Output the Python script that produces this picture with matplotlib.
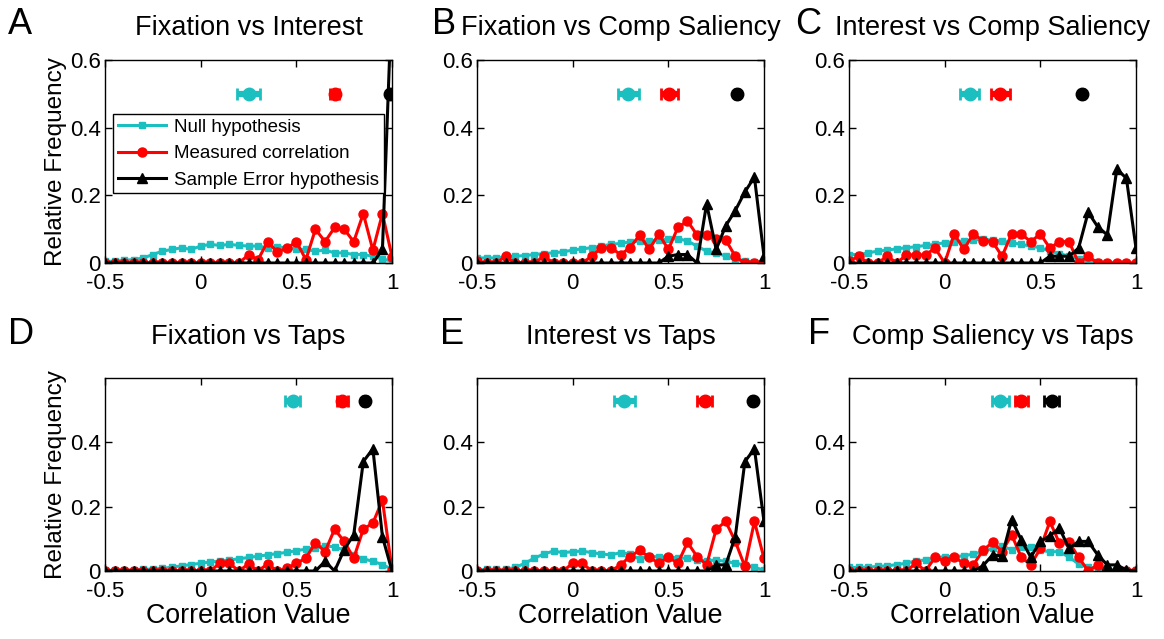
import numpy as np
import matplotlib
matplotlib.use("Agg")
import matplotlib.pyplot as plt

# bin centres of the correlation histograms
bins = np.round(np.arange(-0.5, 1.0001, 0.05), 2)

titles = ["Fixation vs Interest", "Fixation vs Comp Saliency",
          "Interest vs Comp Saliency", "Fixation vs Taps",
          "Interest vs Taps", "Comp Saliency vs Taps"]
letters = ["A", "B", "C", "D", "E", "F"]
legend_labels = ["Null hypothesis", "Measured correlation",
                 "Sample Error hypothesis"]

# --- A: Fixation vs Interest
null_a = [0.005, 0.005, 0.008, 0.010, 0.015, 0.025, 0.035, 0.040, 0.045, 0.040,
          0.050, 0.055, 0.052, 0.055, 0.052, 0.050, 0.050, 0.045, 0.048, 0.045,
          0.040, 0.040, 0.035, 0.038, 0.030, 0.030, 0.025, 0.025, 0.020, 0.012,
          0.005]
meas_a = [0, 0, 0, 0, 0, 0, 0, 0, 0, 0,
          0, 0, 0, 0, 0, 0.024, 0.010, 0.063, 0.033, 0.043,
          0.063, 0.010, 0.100, 0.063, 0.105, 0.100, 0.063, 0.146, 0.038, 0.146,
          0.019]
samp_a = [0, 0, 0, 0, 0, 0, 0, 0, 0, 0,
          0, 0, 0, 0, 0, 0, 0, 0, 0, 0,
          0, 0, 0, 0, 0, 0, 0, 0, 0, 0.040,
          0.800]

# --- B: Fixation vs Comp Saliency
null_b = [0.015, 0.015, 0.015, 0.018, 0.020, 0.022, 0.025, 0.028, 0.030, 0.033,
          0.038, 0.042, 0.045, 0.050, 0.055, 0.058, 0.062, 0.065, 0.065, 0.068,
          0.070, 0.072, 0.065, 0.050, 0.035, 0.030, 0.020, 0.010, 0.005, 0.003,
          0.002]
meas_b = [0.005, 0, 0, 0.020, 0, 0, 0, 0.020, 0, 0,
          0, 0, 0.020, 0.045, 0.045, 0.025, 0.045, 0.083, 0.040, 0.086,
          0.040, 0.105, 0.124, 0.083, 0.083, 0.070, 0.068, 0.020, 0, 0,
          0]
samp_b = [0, 0, 0, 0, 0, 0, 0, 0, 0, 0,
          0, 0, 0, 0, 0, 0, 0, 0, 0, 0,
          0.020, 0.025, 0.025, 0, 0.175, 0.040, 0.110, 0.155, 0.210, 0.254,
          0.020]

# --- C: Interest vs Comp Saliency
null_c = [0.025, 0.025, 0.030, 0.035, 0.038, 0.042, 0.045, 0.048, 0.052, 0.055,
          0.060, 0.063, 0.065, 0.068, 0.070, 0.068, 0.065, 0.060, 0.055, 0.050,
          0.045, 0.035, 0.028, 0.020, 0.012, 0.005, 0.002, 0.001, 0, 0,
          0]
meas_c = [0.005, 0.020, 0, 0, 0.020, 0, 0.024, 0.024, 0.024, 0.044,
          0, 0.086, 0.040, 0.086, 0.066, 0.063, 0.020, 0.086, 0.086, 0.063,
          0.086, 0.044, 0.063, 0.063, 0, 0.020, 0, 0, 0, 0,
          0]
samp_c = [0, 0, 0, 0, 0, 0, 0, 0, 0, 0,
          0, 0, 0, 0, 0, 0, 0, 0, 0, 0,
          0, 0.020, 0.020, 0.020, 0.044, 0.150, 0.107, 0.083, 0.278, 0.250,
          0.044]

# --- D: Fixation vs Taps
null_d = [0.002, 0.002, 0.003, 0.004, 0.005, 0.006, 0.008, 0.012, 0.016, 0.020,
          0.024, 0.028, 0.031, 0.034, 0.038, 0.042, 0.046, 0.050, 0.054, 0.058,
          0.063, 0.068, 0.073, 0.078, 0.075, 0.065, 0.050, 0.038, 0.030, 0.020,
          0.005]
meas_d = [0, 0, 0, 0, 0, 0, 0, 0, 0, 0,
          0, 0, 0.024, 0.024, 0, 0.022, 0, 0.022, 0, 0.008,
          0.024, 0.040, 0.088, 0.060, 0.130, 0.092, 0.040, 0.130, 0.149, 0.220,
          0.003]
samp_d = [0, 0, 0, 0, 0, 0, 0, 0, 0, 0,
          0, 0, 0, 0, 0, 0, 0, 0, 0, 0,
          0, 0, 0, 0.030, 0, 0.066, 0.113, 0.340, 0.380, 0.107,
          0]

# --- E: Interest vs Taps
null_e = [0.003, 0.005, 0.005, 0.005, 0.011, 0.024, 0.040, 0.053, 0.062, 0.057,
          0.060, 0.062, 0.057, 0.053, 0.050, 0.057, 0.053, 0.036, 0.047, 0.043,
          0.045, 0.040, 0.040, 0.034, 0.032, 0.034, 0.030, 0.024, 0.019, 0.011,
          0.003]
meas_e = [0, 0, 0, 0, 0, 0, 0, 0, 0, 0,
          0.024, 0.024, 0, 0, 0, 0.019, 0.045, 0.064, 0.043, 0.024,
          0.043, 0.024, 0.089, 0.045, 0.019, 0.130, 0.154, 0.092, 0.014, 0.154,
          0.040]
samp_e = [0, 0, 0, 0, 0, 0, 0, 0, 0, 0,
          0, 0, 0, 0, 0, 0, 0, 0, 0, 0,
          0, 0, 0, 0, 0, 0.019, 0.019, 0.107, 0.340, 0.380,
          0.154]

# --- F: Comp Saliency vs Taps
null_f = [0.011, 0.011, 0.012, 0.014, 0.016, 0.020, 0.024, 0.032, 0.034, 0.040,
          0.045, 0.045, 0.047, 0.053, 0.060, 0.070, 0.078, 0.066, 0.076, 0.076,
          0.064, 0.060, 0.060, 0.043, 0.022, 0.011, 0.008, 0.003, 0.003, 0.003,
          0.003]
meas_f = [0, 0, 0, 0, 0, 0, 0, 0.024, 0, 0.043,
          0.030, 0.043, 0.024, 0.019, 0.064, 0.089, 0.060, 0.113, 0.043, 0.019,
          0.070, 0.154, 0.086, 0.089, 0.043, 0, 0.019, 0, 0, 0,
          0]
samp_f = [0, 0, 0, 0, 0, 0, 0, 0, 0, 0,
          0, 0, 0, 0, 0.016, 0.050, 0.047, 0.160, 0.097, 0.043,
          0.092, 0.110, 0.133, 0.070, 0.092, 0.092, 0.050, 0.019, 0.019, 0.003,
          0]

# mean +/- spread of each distribution (null, measured, sample error)
mean_a, spread_a = [0.25, 0.70, 0.99], [0.06, 0.025, 0.005]
mean_b, spread_b = [0.29, 0.505, 0.86], [0.055, 0.045, 0.01]
mean_c, spread_c = [0.13, 0.29, 0.72], [0.05, 0.05, 0.01]
mean_d, spread_d = [0.48, 0.74, 0.86], [0.04, 0.03, 0.01]
mean_e, spread_e = [0.27, 0.69, 0.94], [0.055, 0.04, 0.01]
mean_f, spread_f = [0.29, 0.40, 0.56], [0.045, 0.035, 0.04]

nulls = [null_a, null_b, null_c, null_d, null_e, null_f]
meas = [meas_a, meas_b, meas_c, meas_d, meas_e, meas_f]
samps = [samp_a, samp_b, samp_c, samp_d, samp_e, samp_f]
means = [mean_a, mean_b, mean_c, mean_d, mean_e, mean_f]
spreads = [spread_a, spread_b, spread_c, spread_d, spread_e, spread_f]

CYAN = "#1cbfbf"
RED = "#ff0000"
BLACK = "#000000"


def main():
    plt.rcParams["font.family"] = ["Liberation Sans", "DejaVu Sans"]
    fig = plt.figure(figsize=(11.64, 6.39), dpi=100)

    W, H = 1164.0, 639.0
    lefts = [105, 477, 849]
    rows = [(60, 263), (378, 571)]
    title_y = [28, 337]
    letter_pos = [(8, 24), (432, 24), (795, 24), (8, 334), (440, 334), (808, 334)]

    for k in range(6):
        r, c = divmod(k, 3)
        top, bot = rows[r]
        ax = fig.add_axes([lefts[c] / W, 1 - bot / H, 287 / W, (bot - top) / H])

        l1, = ax.plot(bins, nulls[k], "-s", color=CYAN, lw=2.2, ms=5,
                      mec=CYAN, mfc=CYAN)
        l2, = ax.plot(bins, meas[k], "-o", color=RED, lw=2.2, ms=6.5,
                      mec=RED, mfc=RED)
        l3, = ax.plot(bins, samps[k], "-^", color=BLACK, lw=2.2, ms=6.5,
                      mec=BLACK, mfc=BLACK)

        ypos = 0.5 if r == 0 else 0.53
        for m, s, col in zip(means[k], spreads[k], [CYAN, RED, BLACK]):
            ax.errorbar(m, ypos, xerr=s, fmt="o", color=col, ms=9,
                        elinewidth=4.5, capsize=4, capthick=2)

        ax.set_xlim(-0.5, 1.0)
        ax.set_ylim(0, 0.6)
        ax.set_xticks([-0.5, 0, 0.5, 1])
        ax.set_xticklabels(["-0.5", "0", "0.5", "1"])
        if r == 0:
            ax.set_yticks([0, 0.2, 0.4, 0.6])
            ax.set_yticklabels(["0", "0.2", "0.4", "0.6"])
        else:
            ax.set_yticks([0, 0.2, 0.4])
            ax.set_yticklabels(["0", "0.2", "0.4"])
        ax.tick_params(direction="in", top=True, right=True, labelsize=16,
                       length=5, width=1)
        ax.tick_params(axis="x", pad=7)
        ax.tick_params(axis="y", pad=3)
        for sp in ax.spines.values():
            sp.set_linewidth(1)

        cx = (lefts[c] + 287 / 2) / W
        fig.text(cx, 1 - title_y[r] / H, titles[k], fontsize=19.5,
                 ha="center", va="center")
        lx, ly = letter_pos[k]
        fig.text(lx / W, 1 - ly / H, letters[k], fontsize=26,
                 ha="left", va="center")

        if c == 0:
            ax.set_ylabel("Relative Frequency", fontsize=17.5, labelpad=2)
        if r == 1:
            ax.set_xlabel("Correlation Value", fontsize=19.3, labelpad=1)

        if k == 0:
            ax.legend([l1, l2, l3], legend_labels, loc="upper left",
                      bbox_to_anchor=(0.028, 0.735), borderaxespad=0,
                      fontsize=13.5, frameon=True, fancybox=False,
                      edgecolor="black", framealpha=1, handlelength=2.6,
                      handletextpad=0.4, borderpad=0.25, labelspacing=0.5)

    fig.savefig("out.png", dpi=100)


if __name__ == "__main__":
    main()
